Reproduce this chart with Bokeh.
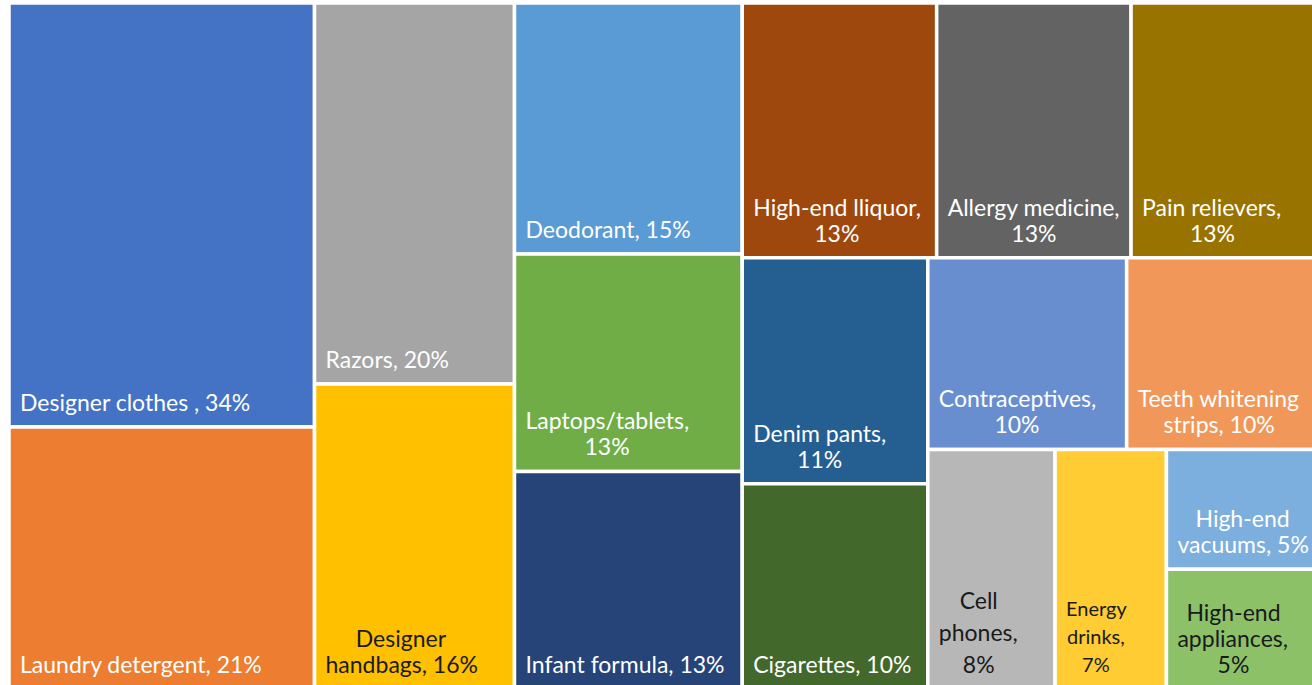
from bokeh.plotting import figure
from bokeh.models import Range1d, ColumnDataSource
from bokeh.embed import file_html
from bokeh.resources import INLINE
from bokeh.core.properties import value

# ---------------- data ----------------
categories = ["Designer clothes ", "Laundry detergent", "Razors", "Designer handbags",
              "Deodorant", "Laptops/tablets", "Infant formula", "High-end lliquor",
              "Allergy medicine", "Pain relievers", "Denim pants", "Cigarettes",
              "Contraceptives", "Teeth whitening strips", "Cell phones", "Energy drinks",
              "High-end vacuums", "High-end appliances"]
percents = [34, 21, 20, 16, 15, 13, 13, 13, 13, 13, 11, 10, 10, 10, 8, 7, 5, 5]
fill_colors = ["#4472C4", "#ED7D31", "#A5A5A5", "#FFC000", "#5B9BD5", "#70AD47",
               "#264478", "#9E480E", "#636363", "#997300", "#255E91", "#43682B",
               "#698ED0", "#F1975A", "#B7B7B7", "#FFCD33", "#7CAFDD", "#8CC168"]
label_colors = ["white", "white", "white", "#1a1a1a", "white", "white", "white", "white",
                "white", "white", "white", "white", "white", "white", "#1a1a1a", "#1a1a1a",
                "white", "#1a1a1a"]
label_lines = [
    ["Designer clothes , 34%"],
    ["Laundry detergent, 21%"],
    ["Razors, 20%"],
    ["Designer", "handbags, 16%"],
    ["Deodorant, 15%"],
    ["Laptops/tablets,", "13%"],
    ["Infant formula, 13%"],
    ["High-end lliquor,", "13%"],
    ["Allergy medicine,", "13%"],
    ["Pain relievers,", "13%"],
    ["Denim pants,", "11%"],
    ["Cigarettes, 10%"],
    ["Contraceptives,", "10%"],
    ["Teeth whitening", "strips, 10%"],
    ["Cell", "phones,", "8%"],
    ["Energy", "drinks,", "7%"],
    ["High-end", "vacuums, 5%"],
    ["High-end", "appliances,", "5%"],
]

# ---------------- layout (nested slice tree of item indices) ----------------
# "h": children side by side, "v": children stacked
tree = ("h", [("v", [0, 1]), ("v", [2, 3]), ("v", [4, 5, 6]),
              ("v", [("h", [7, 8, 9]),
                     ("h", [("v", [10, 11]),
                            ("v", [("h", [12, 13]),
                                   ("h", [14, 15, ("v", [16, 17])])])])])])

W, H = 1312, 685
AREA = (8.5, 2.5, 1325.0, 688.5)  # treemap extent in page pixels


def node_sum(n):
    if isinstance(n, int):
        return percents[n]
    return sum(node_sum(c) for c in n[1])


rects = {}


def lay(n, x0, y0, x1, y1):
    if isinstance(n, int):
        rects[n] = (x0, y0, x1, y1)
        return
    kind, kids = n
    tot = node_sum(n)
    pos = x0 if kind == "h" else y0
    for c in kids:
        frac = node_sum(c) / tot
        if kind == "h":
            w = (x1 - x0) * frac
            lay(c, pos, y0, pos + w, y1)
        else:
            w = (y1 - y0) * frac
            lay(c, x0, pos, x1, pos + w)
        pos += w


lay(tree, *AREA)

# ---------------- figure ----------------
p = figure(width=W, height=H, output_backend="svg", toolbar_location=None,
           x_range=Range1d(0, W), y_range=Range1d(H, 0), min_border=0)
p.axis.visible = False
p.grid.visible = False
p.outline_line_color = None
p.background_fill_color = "white"
p.border_fill_color = "white"

n = len(categories)
src = ColumnDataSource(dict(
    left=[rects[i][0] for i in range(n)], right=[rects[i][2] for i in range(n)],
    top=[rects[i][1] for i in range(n)], bottom=[rects[i][3] for i in range(n)],
    color=fill_colors, name=categories, pct=percents))
p.quad(left="left", right="right", top="top", bottom="bottom", source=src,
       fill_color="color", line_color="white", line_width=3.5)

# ---------------- labels ----------------
FONT = "Lato"
K = 1.07  # width factor of chosen font relative to Calibri metrics
CW = {' ': .226, ',': .250, '%': .715, '-': .306, '/': .386,
      'a': .479, 'b': .525, 'c': .423, 'd': .525, 'e': .498, 'f': .305, 'g': .471,
      'h': .525, 'i': .229, 'j': .239, 'k': .455, 'l': .229, 'm': .799, 'n': .525,
      'o': .527, 'p': .525, 'q': .525, 'r': .349, 's': .391, 't': .335, 'u': .525,
      'v': .452, 'w': .715, 'x': .433, 'y': .453, 'z': .395,
      'A': .579, 'C': .533, 'D': .615, 'E': .488, 'H': .623, 'I': .252, 'L': .420,
      'P': .517, 'R': .543, 'T': .487}


def est_width(s, fs):
    return sum(CW.get(ch, .507) for ch in s) * fs * K


base_fs = 23
font_sizes = {15: 20}
spacings = {14: 32, 15: 28}
PAD = 11
BOTTOM = 25

L = dict(x=[], y=[], text=[], color=[], fs=[])
C = dict(x=[], y=[], text=[], color=[], fs=[])
for i in range(n):
    x0, y0, x1, y1 = rects[i]
    lines = label_lines[i]
    fs = font_sizes.get(i, base_fs)
    sp = spacings.get(i, 26)
    widths = [est_width(t, fs) for t in lines]
    wmax = max(widths)
    imax = widths.index(wmax)
    for k, t in enumerate(lines):
        y = y1 - BOTTOM - (len(lines) - 1 - k) * sp
        d = L if (k == imax) else C
        d["x"].append(x0 + PAD if k == imax else x0 + PAD + wmax / 2)
        d["y"].append(y)
        d["text"].append(t)
        d["color"].append(label_colors[i])
        d["fs"].append(f"{fs}px")

p.text(x="x", y="y", text="text", source=ColumnDataSource(L), text_color="color",
       text_font=value(FONT), text_font_size="fs", text_align="left",
       text_baseline="middle")
p.text(x="x", y="y", text="text", source=ColumnDataSource(C), text_color="color",
       text_font=value(FONT), text_font_size="fs", text_align="center",
       text_baseline="middle")

open("out.html", "w").write(file_html(p, INLINE))
